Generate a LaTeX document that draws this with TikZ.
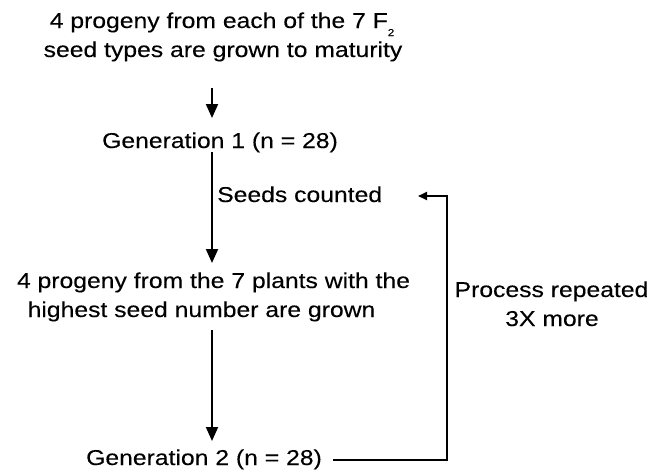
\documentclass[tikz,border=0pt]{standalone}
\usepackage{fontspec}
\setmainfont{Liberation Sans}[FakeStretch=1.15,FakeBold=0.2]
\usetikzlibrary{arrows.meta}
\tikzset{
  txt/.style={anchor=base, inner sep=0pt, font=\fontsize{21.5}{26}\selectfont},
  arr/.style={line width=2pt, -{Triangle[length=14pt,width=12pt]}},
  back/.style={line width=2pt, -{Triangle[length=9pt,width=8pt]}},
}
\begin{document}
\begin{tikzpicture}[x=1pt,y=-1pt]
\useasboundingbox (0,0) rectangle (653,472);
\node[txt] (t1) at (222,28) {4 progeny from each of the 7 F\raisebox{-8pt}{\fontsize{10}{10}\selectfont 2}};
\node[txt] (t2) at (223,57) {seed types are grown to maturity};
\node[txt] (g1) at (220,148) {Generation 1 (n = 28)};
\node[txt, anchor=base west] (sc) at (217,202) {Seeds counted};
\node[txt] (p1) at (213.5,288) {4 progeny from the 7 plants with the};
\node[txt] (p2) at (201.5,317) {highest seed number are grown};
\node[txt] (g2) at (204,465) {Generation 2 (n = 28)};
\node[txt] (r1) at (551.5,297) {Process repeated};
\node[txt] (r2) at (552,326) {3X more};
\coordinate (a1s) at (212,88);
\coordinate (a1e) at (212,118);
\coordinate (a2s) at (212,152);
\coordinate (a2e) at (212,263);
\coordinate (a3s) at (212,330);
\coordinate (a3e) at (212,441);
\coordinate (bs) at (333,460);
\coordinate (bc1) at (447,460);
\coordinate (bc2) at (447,196);
\coordinate (be) at (418,196);
\draw[arr] (a1s) -- (a1e);
\draw[arr] (a2s) -- (a2e);
\draw[arr] (a3s) -- (a3e);
\draw[back] (bs) -- (bc1) -- (bc2) -- (be);
\end{tikzpicture}
\end{document}
